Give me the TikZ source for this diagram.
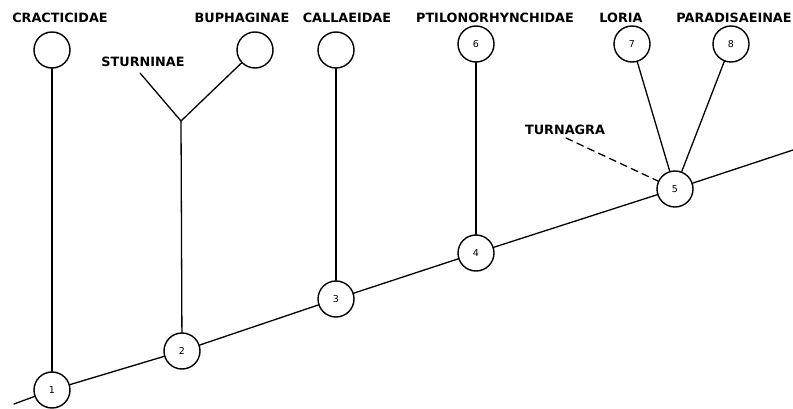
\documentclass[tikz,border=0pt]{standalone}
\usepackage{fontspec}
\setmainfont{DejaVu Sans}
\usetikzlibrary{calc}
\tikzset{>=latex}
\tikzset{taxon/.style={circle,draw,line width=1.4pt,minimum size=36pt,inner sep=0pt,font=\fontsize{9.5}{10}\selectfont},
	grouplabel/.style={inner sep=0pt,font=\bfseries\fontsize{12.8}{13}\selectfont}}

\begin{document}
\begin{tikzpicture}[line cap=round,line join=round,x=1pt,y=-1pt,line width=1.3pt]
		\useasboundingbox (0,0) rectangle (793,409);
		% nodes on the main stem
		\node[taxon] (n1) at (52,390) {1};
		\node[taxon] (n2) at (182,351) {2};
		\node[taxon] (n3) at (336,299) {3};
		\node[taxon] (n4) at (476,253) {4};
		\node[taxon] (n5) at (675,189) {5};
		% terminal circles
		\node[taxon] (cC) at (52,50) {};
		\node[taxon] (cB) at (255,50) {};
		\node[taxon] (cL) at (336,50) {};
		\node[taxon] (n6) at (476,44) {6};
		\node[taxon] (n7) at (632,44) {7};
		\node[taxon] (n8) at (731,44) {8};
		\coordinate (stemL) at (14,404);
		\coordinate (stemR) at (793,150);
		\coordinate (fork) at (181,121);
		\coordinate (sturn) at (140,73);
		\coordinate (turn) at (566,138);
		% main stem
		\draw (stemL) -- (n1) -- (n2) -- (n3) -- (n4) -- (n5) -- (stemR);
		% side branches
		\draw (n1) -- (cC);
		\draw (n2) -- (fork);
		\draw (sturn) -- (fork) -- (cB);
		\draw (n3) -- (cL);
		\draw (n4) -- (n6);
		\draw (n5) -- (n7);
		\draw (n5) -- (n8);
		\draw[dash pattern=on 7pt off 5pt] (turn) -- (n5);
		% labels
		\node[grouplabel] (lC) at (60,18) {CRACTICIDAE};
		\node[grouplabel] (lB) at (242,18) {BUPHAGINAE};
		\node[grouplabel] (lL) at (347,18) {CALLAEIDAE};
		\node[grouplabel] (lS) at (143,62) {STURNINAE};
		\node[grouplabel] (lP) at (495,18) {PTILONORHYNCHIDAE};
		\node[grouplabel] (lLo) at (621,18) {LORIA};
		\node[grouplabel] (lPa) at (734,18) {PARADISAEINAE};
		\node[grouplabel] (lT) at (565,130) {TURNAGRA};
		\end{tikzpicture}
\end{document}
